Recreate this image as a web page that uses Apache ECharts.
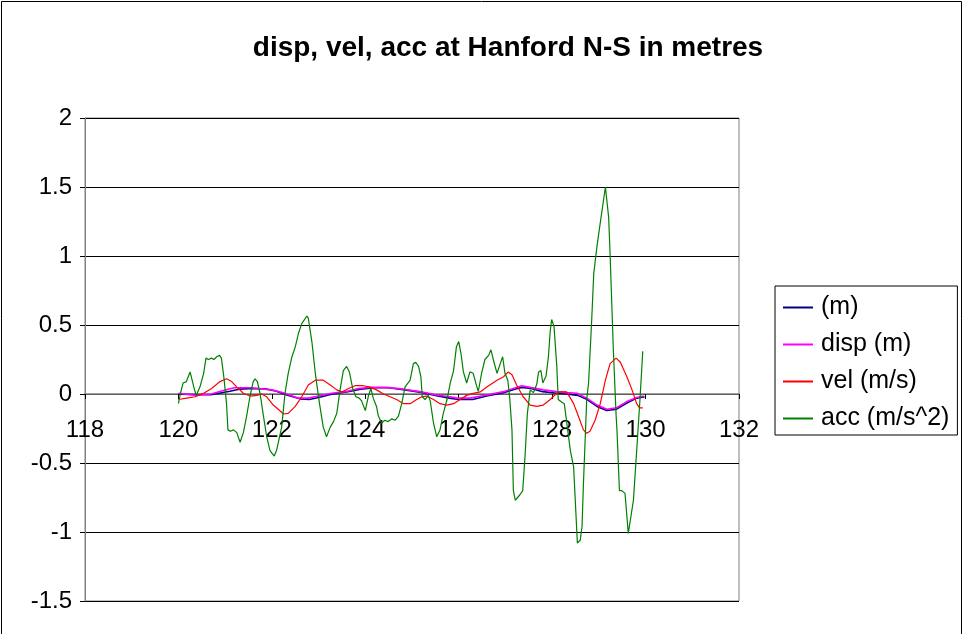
<!DOCTYPE html>
<html lang="en">
<head>
    <meta charset="UTF-8">
    <title>disp, vel, acc at Hanford N-S</title>
    <style>
        html,
        body,
        #chart {
            margin: 0px;
            padding: 0px;
            width: 964px;
            height: 634px;
            background: #fff;
        }
    </style>
</head>
<body>
    <div id="chart"></div>
    <script src="https://cdn.jsdelivr.net/npm/echarts@6/dist/echarts.min.js"></script>
    <script>
        // time axis ticks
        var xTicks = [118, 120, 122, 124, 126, 128, 130, 132];

        // (m) - navy
        var mX = [120.0, 120.7, 121.1, 121.3, 121.6, 121.9, 122.1, 122.3, 122.6, 122.8, 123.0, 123.3, 123.6, 123.9, 124.2, 124.5, 124.85, 125.2, 125.5, 125.8, 126.0, 126.3, 126.6, 126.96, 127.2, 127.35, 127.55, 127.8, 128.1, 128.3, 128.55, 128.75, 128.96, 129.17, 129.38, 129.6, 129.81, 129.98];
        var mY = [-0.002, -0.005, 0.02, 0.035, 0.04, 0.035, 0.02, -0.005, -0.035, -0.04, -0.025, 0.0, 0.015, 0.035, 0.045, 0.045, 0.03, 0.012, -0.01, -0.03, -0.04, -0.04, -0.015, 0.01, 0.035, 0.048, 0.04, 0.017, 0.005, 0.0, -0.01, -0.04, -0.09, -0.12, -0.11, -0.065, -0.03, -0.02];

        // disp (m) - magenta
        var dispX = [120.0, 120.38, 120.7, 121.06, 121.2, 121.55, 121.84, 122.0, 122.28, 122.57, 122.78, 123.0, 123.28, 123.57, 123.85, 124.1, 124.45, 124.82, 125.17, 125.53, 125.82, 125.96, 126.24, 126.6, 126.96, 127.17, 127.35, 127.53, 127.81, 128.1, 128.31, 128.53, 128.74, 128.96, 129.17, 129.38, 129.6, 129.81, 129.96];
        var dispY = [0.005, -0.01, 0.0, 0.035, 0.045, 0.045, 0.035, 0.03, 0.005, -0.03, -0.03, -0.015, 0.005, 0.017, 0.04, 0.048, 0.048, 0.035, 0.017, -0.007, -0.02, -0.03, -0.03, -0.007, 0.017, 0.04, 0.06, 0.048, 0.03, 0.017, 0.01, 0.005, -0.03, -0.08, -0.11, -0.1, -0.055, -0.025, -0.015];

        // vel (m/s) - red
        var velX = [120.0, 120.18, 120.36, 120.54, 120.71, 120.89, 121.03, 121.14, 121.25, 121.39, 121.53, 121.68, 121.78, 121.89, 122.03, 122.1, 122.25, 122.35, 122.5, 122.64, 122.78, 122.93, 123.1, 123.25, 123.39, 123.5, 123.64, 123.78, 123.96, 124.1, 124.24, 124.39, 124.53, 124.67, 124.82, 124.96, 125.1, 125.21, 125.31, 125.46, 125.6, 125.74, 125.89, 126.03, 126.17, 126.31, 126.46, 126.6, 126.82, 126.96, 127.06, 127.14, 127.24, 127.38, 127.53, 127.67, 127.81, 127.96, 128.1, 128.17, 128.31, 128.46, 128.56, 128.67, 128.74, 128.81, 128.92, 129.03, 129.14, 129.24, 129.37, 129.46, 129.6, 129.71, 129.81, 129.87, 129.94];
        var velY = [-0.04, -0.03, -0.02, 0.005, 0.04, 0.09, 0.11, 0.09, 0.05, 0.005, -0.015, -0.01, 0.0, -0.02, -0.08, -0.1, -0.145, -0.14, -0.09, -0.02, 0.065, 0.1, 0.1, 0.065, 0.03, 0.015, 0.04, 0.06, 0.06, 0.05, 0.03, 0.0, -0.02, -0.04, -0.07, -0.07, -0.04, -0.02, -0.015, -0.04, -0.07, -0.08, -0.07, -0.04, -0.01, 0.005, 0.015, 0.05, 0.1, 0.125, 0.16, 0.14, 0.065, -0.02, -0.08, -0.09, -0.08, -0.04, 0.005, 0.015, 0.015, -0.07, -0.16, -0.26, -0.285, -0.27, -0.19, -0.07, 0.1, 0.22, 0.26, 0.23, 0.125, 0.03, -0.07, -0.1, -0.1];

        // acc (m/s^2) - green
        var accX = [120.0, 120.04, 120.1, 120.17, 120.25, 120.29, 120.33, 120.38, 120.46, 120.54, 120.59, 120.64, 120.71, 120.76, 120.82, 120.88, 120.92, 120.97, 121.03, 121.06, 121.11, 121.18, 121.25, 121.32, 121.39, 121.46, 121.53, 121.6, 121.64, 121.69, 121.75, 121.82, 121.89, 121.96, 122.05, 122.1, 122.21, 122.28, 122.35, 122.43, 122.5, 122.57, 122.64, 122.75, 122.78, 122.86, 122.93, 123.02, 123.1, 123.17, 123.25, 123.32, 123.39, 123.46, 123.53, 123.6, 123.66, 123.73, 123.8, 123.87, 123.92, 124.0, 124.07, 124.12, 124.17, 124.24, 124.28, 124.35, 124.42, 124.49, 124.57, 124.64, 124.71, 124.78, 124.85, 124.96, 125.03, 125.08, 125.14, 125.19, 125.22, 125.28, 125.35, 125.39, 125.46, 125.53, 125.6, 125.67, 125.75, 125.82, 125.89, 125.95, 126.0, 126.05, 126.1, 126.17, 126.24, 126.31, 126.39, 126.42, 126.49, 126.56, 126.64, 126.69, 126.74, 126.82, 126.89, 126.94, 126.99, 127.05, 127.09, 127.14, 127.17, 127.21, 127.31, 127.37, 127.42, 127.47, 127.53, 127.6, 127.67, 127.71, 127.76, 127.8, 127.87, 127.92, 127.96, 127.99, 128.04, 128.1, 128.13, 128.21, 128.26, 128.39, 128.46, 128.54, 128.6, 128.64, 128.67, 128.74, 128.78, 128.85, 128.89, 128.96, 129.03, 129.14, 129.21, 129.24, 129.31, 129.37, 129.39, 129.44, 129.49, 129.56, 129.63, 129.67, 129.74, 129.81, 129.88, 129.94];
        var accY = [-0.07, 0.0, 0.08, 0.09, 0.16, 0.15, 0.05, -0.01, 0.05, 0.15, 0.26, 0.25, 0.26, 0.25, 0.27, 0.28, 0.26, 0.13, -0.07, -0.26, -0.27, -0.26, -0.28, -0.35, -0.28, -0.16, -0.02, 0.09, 0.11, 0.09, 0.0, -0.16, -0.31, -0.41, -0.45, -0.41, -0.24, 0.0, 0.15, 0.27, 0.34, 0.44, 0.51, 0.565, 0.55, 0.37, 0.15, -0.07, -0.24, -0.31, -0.24, -0.2, -0.14, 0.03, 0.17, 0.2, 0.16, 0.04, -0.02, -0.03, -0.05, -0.12, -0.01, 0.04, -0.03, -0.09, -0.16, -0.21, -0.19, -0.2, -0.18, -0.19, -0.16, -0.07, 0.05, 0.1, 0.22, 0.23, 0.2, 0.125, -0.02, -0.04, -0.01, -0.05, -0.21, -0.31, -0.26, -0.14, -0.04, 0.08, 0.17, 0.34, 0.38, 0.29, 0.16, 0.08, 0.16, 0.15, 0.05, 0.02, 0.15, 0.25, 0.28, 0.32, 0.25, 0.15, 0.22, 0.27, 0.15, 0.1, -0.02, -0.26, -0.7, -0.77, -0.73, -0.7, -0.45, -0.14, 0.03, 0.01, 0.07, 0.16, 0.17, 0.08, 0.13, 0.27, 0.46, 0.54, 0.49, 0.2, -0.04, -0.06, -0.07, -0.41, -0.53, -1.08, -1.06, -0.96, -0.65, -0.04, 0.08, 0.56, 0.87, 1.07, 1.24, 1.5, 1.28, 1.02, 0.32, -0.16, -0.28, -0.7, -0.7, -0.72, -1.01, -1.0, -0.77, -0.41, -0.04, 0.31];

        function pairs(xs, ys) {
            var out = [];
            for (var i = 0; i < xs.length; i++)
                out.push([xs[i], ys[i]]);
            return out;
        }

        var font = '"Liberation Sans", Arial, sans-serif';

        var myChart = echarts.init(document.getElementById('chart'));
        myChart.setOption({
            animation: false,
            backgroundColor: '#fff',
            title: {
                text: 'disp, vel, acc at Hanford N-S in metres',
                left: 503,
                top: 29,
                textAlign: 'center',
                textStyle: {
                    fontFamily: font,
                    fontSize: 28,
                    fontWeight: 'bold',
                    color: '#000'
                }
            },
            graphic: [{
                type: 'rect',
                shape: { x: 1.5, y: 1.5, width: 960, height: 700 },
                style: { fill: 'none', stroke: '#000', lineWidth: 1 },
                silent: true
            }],
            legend: {
                orient: 'vertical',
                left: 775,
                top: 286,
                padding: [9, 8, 4, 8],
                borderColor: '#000',
                borderWidth: 1,
                itemWidth: 30,
                itemHeight: 2,
                itemGap: 12,
                icon: 'rect',
                textStyle: {
                    fontFamily: font,
                    fontSize: 25,
                    lineHeight: 24,
                    color: '#000',
                    padding: [0, 0, 0, 3]
                },
                data: ['(m)', 'disp (m)', 'vel (m/s)', 'acc (m/s^2)']
            },
            grid: {
                left: 85,
                right: 225,
                top: 118,
                bottom: 33,
                outerBoundsMode: 'none',
                containLabel: false,
                show: true,
                borderColor: '#808080',
                borderWidth: 1
            },
            xAxis: {
                type: 'value',
                min: xTicks[0],
                max: xTicks[xTicks.length - 1],
                interval: 2,
                axisLine: { onZero: false, lineStyle: { color: '#808080', width: 1.5 } },
                axisTick: { show: true, length: 5, lineStyle: { color: '#000' } },
                axisLabel: {
                    margin: 24,
                    fontFamily: font,
                    fontSize: 24,
                    color: '#000'
                },
                splitLine: { show: false }
            },
            yAxis: {
                type: 'value',
                min: -1.5,
                max: 2,
                interval: 0.5,
                axisLine: { show: true, lineStyle: { color: '#808080' } },
                axisTick: { show: true, length: 5, lineStyle: { color: '#000' } },
                axisLabel: {
                    margin: 13,
                    fontFamily: font,
                    fontSize: 24,
                    color: '#000'
                },
                splitLine: { show: true, lineStyle: { color: '#000', width: 1 } }
            },
            series: [{
                name: '(m)',
                type: 'line',
                showSymbol: false,
                color: '#000080',
                lineStyle: { width: 1.6 },
                data: pairs(mX, mY)
            }, {
                name: 'disp (m)',
                type: 'line',
                showSymbol: false,
                color: '#ff00ff',
                lineStyle: { width: 1.6 },
                data: pairs(dispX, dispY)
            }, {
                name: 'vel (m/s)',
                type: 'line',
                showSymbol: false,
                color: '#ff0000',
                lineStyle: { width: 1.2 },
                data: pairs(velX, velY)
            }, {
                name: 'acc (m/s^2)',
                type: 'line',
                showSymbol: false,
                color: '#008000',
                lineStyle: { width: 1.2 },
                data: pairs(accX, accY)
            }]
        });

        // move the x axis (line, ticks, labels) up to the y = 0 line
        var yZero = myChart.convertToPixel({ yAxisIndex: 0 }, 0);
        var yBottom = myChart.convertToPixel({ yAxisIndex: 0 }, -1.5);
        myChart.setOption({
            xAxis: { offset: -(yBottom - yZero) }
        });
    </script>
</body>
</html>
